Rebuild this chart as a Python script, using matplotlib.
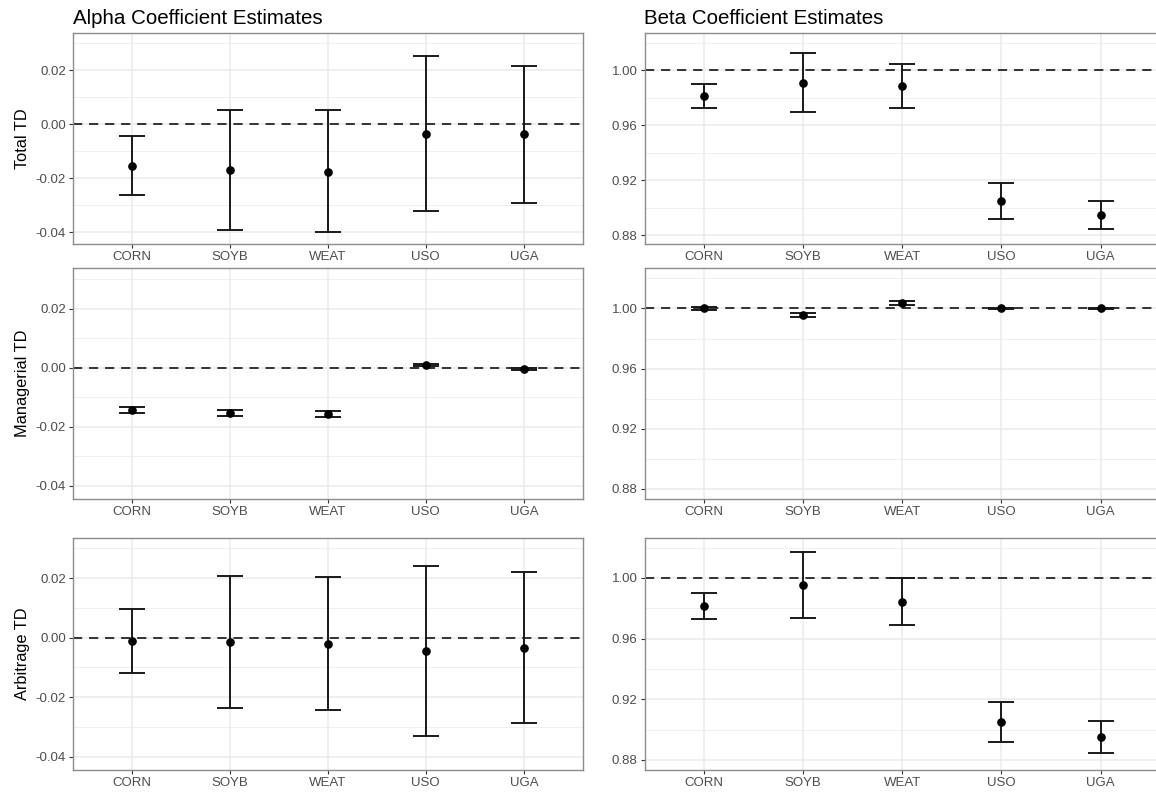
import numpy as np
import matplotlib
matplotlib.use('Agg')
import matplotlib.pyplot as plt

plt.rcParams['font.family'] = ['Liberation Sans', 'DejaVu Sans']

etfs = ['CORN', 'SOYB', 'WEAT', 'USO', 'UGA']
rows = ['Total TD', 'Managerial TD', 'Arbitrage TD']

# alpha estimates with lower / upper bounds
alpha_total_est = [-0.0153, -0.0169, -0.0175, -0.0037, -0.0038]
alpha_total_lo = [-0.0260, -0.0390, -0.0397, -0.0322, -0.0291]
alpha_total_hi = [-0.0044, 0.0054, 0.0051, 0.0251, 0.0216]

alpha_mgr_est = [-0.0143, -0.0154, -0.0157, 0.0010, -0.0004]
alpha_mgr_lo = [-0.0153, -0.0164, -0.0167, 0.0004, -0.0008]
alpha_mgr_hi = [-0.0133, -0.0144, -0.0145, 0.0013, -0.0001]

alpha_arb_est = [-0.0012, -0.0016, -0.0021, -0.0044, -0.0035]
alpha_arb_lo = [-0.0118, -0.0236, -0.0244, -0.0330, -0.0287]
alpha_arb_hi = [0.0095, 0.0207, 0.0203, 0.0242, 0.0219]

# beta estimates with lower / upper bounds
beta_total_est = [0.9811, 0.9908, 0.9881, 0.9046, 0.8948]
beta_total_lo = [0.9726, 0.9694, 0.9726, 0.8914, 0.8844]
beta_total_hi = [0.9900, 1.0124, 1.0041, 0.9177, 0.9050]

beta_mgr_est = [1.0000, 0.9954, 1.0037, 1.0000, 1.0000]
beta_mgr_lo = [0.9987, 0.9941, 1.0024, 0.9996, 0.9996]
beta_mgr_hi = [1.0009, 0.9967, 1.0048, 1.0004, 1.0004]

beta_arb_est = [0.9815, 0.9954, 0.9844, 0.9047, 0.8950]
beta_arb_lo = [0.9727, 0.9738, 0.9690, 0.8915, 0.8846]
beta_arb_hi = [0.9903, 1.0170, 1.0002, 0.9179, 0.9056]

alpha = [(alpha_total_est, alpha_total_lo, alpha_total_hi),
         (alpha_mgr_est, alpha_mgr_lo, alpha_mgr_hi),
         (alpha_arb_est, alpha_arb_lo, alpha_arb_hi)]
beta = [(beta_total_est, beta_total_lo, beta_total_hi),
        (beta_mgr_est, beta_mgr_lo, beta_mgr_hi),
        (beta_arb_est, beta_arb_lo, beta_arb_hi)]

W, H = 1156, 794
fig = plt.figure(figsize=(W / 100, H / 100), dpi=100)

# panel boxes in pixels: (top, bottom)
row_px = [(33.3, 244.3), (268.3, 499.0), (537.5, 770.0)]
col_px = [(72.7, 582.7), (644.5, 1160.0)]

grey20 = '#333333'


def panel(ax, data, ref, ylim, major, minor):
    est, lo, hi = [np.array(v) for v in data]
    x = np.arange(1, len(etfs) + 1)
    ax.set_facecolor('white')
    ax.set_xlim(0.4, len(etfs) + 0.6)
    ax.set_ylim(*ylim)
    ax.set_yticks(major)
    ax.set_yticks(minor, minor=True)
    ax.set_xticks(x)
    ax.set_xticklabels(etfs)
    ax.grid(True, which='major', color='#ebebeb', lw=1.1, zorder=0)
    ax.grid(True, which='minor', axis='y', color='#ebebeb', lw=0.55, zorder=0)
    ax.set_axisbelow(True)
    ax.tick_params(which='major', length=3, width=0.8, color=grey20,
                   labelsize=9.5, labelcolor='#4d4d4d', pad=2)
    ax.tick_params(which='minor', length=0)
    for s in ax.spines.values():
        s.set_color('#8c8c8c')
        s.set_linewidth(1.0)
    ax.axhline(ref, color='black', lw=1.1, ls=(0, (6, 4.5)), zorder=2)
    ax.errorbar(x, est, yerr=[est - lo, hi - est], fmt='o', color='black',
                ecolor='#1a1a1a', elinewidth=1.4, capsize=9.5, capthick=1.4,
                markersize=5.2, zorder=3)


alpha_major = [-0.04, -0.02, 0.00, 0.02]
alpha_minor = [-0.03, -0.01, 0.01, 0.03]
beta_major = [0.88, 0.92, 0.96, 1.00]
beta_minor = [0.90, 0.94, 0.98, 1.02]

for r in range(3):
    top, bot = row_px[r]
    for c in range(2):
        left, right = col_px[c]
        ax = fig.add_axes([left / W, 1 - bot / H, (right - left) / W, (bot - top) / H])
        if c == 0:
            panel(ax, alpha[r], 0.0, (-0.0444, 0.0336), alpha_major, alpha_minor)
            ax.set_yticklabels(['-0.04', '-0.02', '0.00', '0.02'])
            ax.set_ylabel(rows[r], fontsize=11.8, color='black', labelpad=4)
        else:
            panel(ax, beta[r], 1.0, (0.8733, 1.0267), beta_major, beta_minor)
            ax.set_yticklabels(['0.88', '0.92', '0.96', '1.00'])
        if r == 0:
            ax.set_title(['Alpha Coefficient Estimates', 'Beta Coefficient Estimates'][c],
                         loc='left', fontsize=14.8, pad=7)

fig.savefig('out.png', dpi=100)
